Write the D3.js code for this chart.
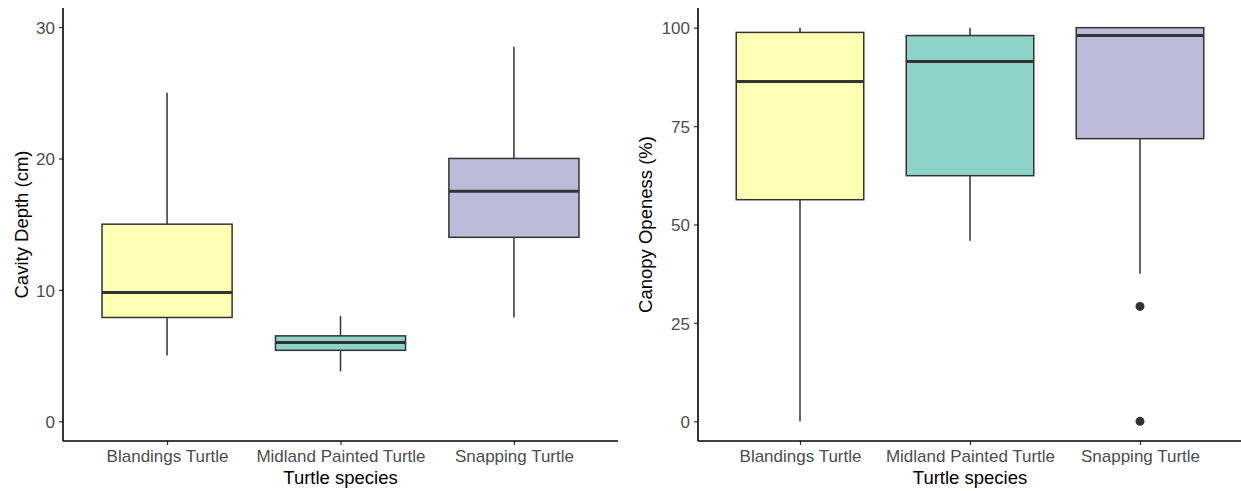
<!DOCTYPE html>
<html>
<head>
<meta charset="utf-8">
<title>Turtle nests</title>
<style>
  body { margin: 0; background: white; }
  .tick text { font-family: "Liberation Sans", Arial, sans-serif; font-size: 17px; fill: #4d4d4d; }
  .title { font-family: "Liberation Sans", Arial, sans-serif; font-size: 18.5px; fill: black; }
</style>
<script src="https://d3js.org/d3.v7.min.js"></script>
</head>
<body>
<script>
// data
var species = ["Blandings Turtle", "Midland Painted Turtle", "Snapping Turtle"];
var fills = ["#FFFFB3", "#8DD3C7", "#BEBADA"];

// cavity depth (cm): [lower whisker, q1, median, q3, upper whisker]
var depthStats = [[5, 7.9, 9.8, 15, 25], [3.8, 5.4, 6, 6.5, 8], [7.9, 14, 17.5, 20, 28.5]];
var depthOutliers = [[], [], []];
var depthTicks = [0, 10, 20, 30];

// canopy openness (%)
var canopyStats = [[0, 56.3, 86.3, 98.8, 100], [45.9, 62.4, 91.4, 98, 100], [37.5, 71.8, 98, 100, 100]];
var canopyOutliers = [[], [], [29.2, 0]];
var canopyTicks = [0, 25, 50, 75, 100];

var W = 1241, H = 491;
var svg = d3.select("body").append("svg").attr("width", W).attr("height", H);

function panel(x0, x1, yDomain, stats, outliers, ticks, ytitle, titleX) {
    var top = 8, bottom = 441;
    var x = d3.scaleBand().domain(species).range([x0, x1]).paddingOuter(0.1).paddingInner(0.25);
    // ggplot-like discrete positions: limits 0.4..3.6
    var unit = (x1 - x0) / 3.2;
    var xc = function(i) { return x0 + (0.6 + i) * unit; };
    var bw = 0.75 * unit;
    var y = d3.scaleLinear().domain(yDomain).range([bottom, top]);
    var g = svg.append("g");

    var boxes = g.selectAll(".box").data(stats).enter().append("g").attr("class", "box");
    boxes.append("line")
        .attr("x1", function(d, i) { return xc(i); }).attr("x2", function(d, i) { return xc(i); })
        .attr("y1", function(d) { return y(d[4]); }).attr("y2", function(d) { return y(d[3]); })
        .attr("stroke", "#333333").attr("stroke-width", 1.5);
    boxes.append("line")
        .attr("x1", function(d, i) { return xc(i); }).attr("x2", function(d, i) { return xc(i); })
        .attr("y1", function(d) { return y(d[1]); }).attr("y2", function(d) { return y(d[0]); })
        .attr("stroke", "#333333").attr("stroke-width", 1.5);
    boxes.append("rect")
        .attr("x", function(d, i) { return xc(i) - bw / 2; })
        .attr("width", bw)
        .attr("y", function(d) { return y(d[3]); })
        .attr("height", function(d) { return y(d[1]) - y(d[3]); })
        .attr("fill", function(d, i) { return fills[i]; })
        .attr("stroke", "#333333").attr("stroke-width", 1.5);
    boxes.append("line")
        .attr("x1", function(d, i) { return xc(i) - bw / 2; }).attr("x2", function(d, i) { return xc(i) + bw / 2; })
        .attr("y1", function(d) { return y(d[2]); }).attr("y2", function(d) { return y(d[2]); })
        .attr("stroke", "#333333").attr("stroke-width", 3);

    outliers.forEach(function(arr, i) {
        g.selectAll(null).data(arr).enter().append("circle")
            .attr("cx", xc(i)).attr("cy", function(d) { return y(d); })
            .attr("r", 4.5).attr("fill", "#333333");
    });

    // axes
    var xAxis = d3.axisBottom(d3.scalePoint().domain(species).range([xc(0), xc(2)]))
        .tickSize(4).tickPadding(5);
    var gx = g.append("g").attr("transform", "translate(0," + bottom + ")").call(xAxis);
    gx.select(".domain").remove();
    gx.append("line").attr("x1", x0).attr("x2", x1).attr("stroke", "black").attr("stroke-width", 1.6);
    gx.selectAll(".tick line").attr("stroke", "#333333").attr("stroke-width", 1.2);

    var yAxis = d3.axisLeft(y).tickValues(ticks).tickSize(4).tickPadding(4);
    var gy = g.append("g").attr("transform", "translate(" + x0 + ",0)").call(yAxis);
    gy.select(".domain").remove();
    gy.append("line").attr("y1", top).attr("y2", bottom).attr("stroke", "black").attr("stroke-width", 1.6);
    gy.selectAll(".tick line").attr("stroke", "#333333").attr("stroke-width", 1.2);
    gy.selectAll(".tick text").attr("dy", "0.36em");

    g.append("text").attr("class", "title")
        .attr("x", (x0 + x1) / 2).attr("y", 484).attr("text-anchor", "middle")
        .text("Turtle species");
    g.append("text").attr("class", "title")
        .attr("transform", "translate(" + titleX + "," + ((top + bottom) / 2) + ") rotate(-90)")
        .attr("text-anchor", "middle").attr("dy", "0.35em")
        .text(ytitle);
}

panel(63, 618, [-1.5, 31.45], depthStats, depthOutliers, depthTicks, "Cavity Depth (cm)", 22);
panel(698, 1242, [-5, 105], canopyStats, canopyOutliers, canopyTicks, "Canopy Openess (%)", 646);
</script>
</body>
</html>
